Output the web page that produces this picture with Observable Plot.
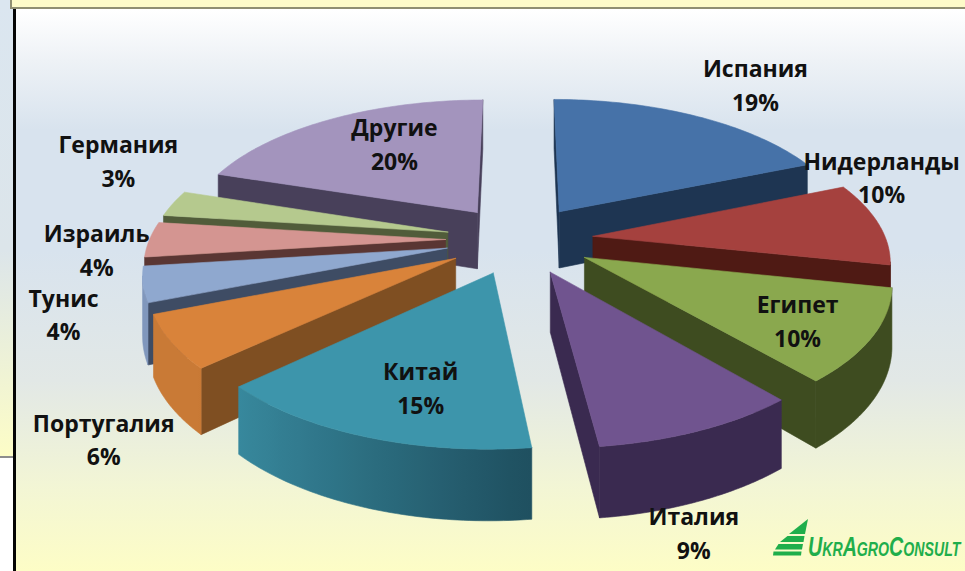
<!DOCTYPE html>
<html>
<head>
<meta charset="utf-8">
<script src="https://cdn.jsdelivr.net/npm/d3@7"></script>
<script src="https://cdn.jsdelivr.net/npm/@observablehq/plot@0.6"></script>
<style>
html,body{margin:0;padding:0;background:#fff;}
#stage{position:relative;width:965px;height:571px;overflow:hidden;
  background:linear-gradient(180deg,#ffffff 10px,#eef2f6 60px,#d8e3ee 130px,#d8e3ee 250px,#e2e8e6 380px,#f3f6d4 490px,#fdfdc6 571px);}
#strip{position:absolute;left:0;top:0;width:13px;height:458px;box-sizing:border-box;
  background:linear-gradient(180deg,#dbe6f0 0,#dce5ea 250px,#fdfdc6 458px);border-bottom:2px solid #8d8d8d;}
#white{position:absolute;left:0;top:458px;width:13px;height:113px;background:#fff;}
#vline{position:absolute;left:13px;top:9px;width:3px;height:562px;background:#050505;}
#band{position:absolute;left:10px;top:-2px;width:960px;height:11px;box-sizing:border-box;
  background:#fdfbc9;border:2px solid #8f8f72;}
#stage svg.plot{position:absolute;left:0;top:0;background:transparent;}
#logo{position:absolute;left:765px;top:512px;}
</style>
</head>
<body>
<div id="stage">
  <div id="strip"></div><div id="white"></div><div id="band"></div><div id="vline"></div>
  <div id="chart"></div>
  <svg id="logo" width="200" height="50" viewBox="0 0 200 50">
    <g fill="#1fae4b">
      <polygon points="43,7 40,22 24,22"/>
      <polygon points="22.5,24 39.5,24 38.5,30 15,30"/>
      <polygon points="13.5,32 38,32 37,37.5 10,37.5"/>
      <polygon points="8.5,39.5 36.5,39.5 36,43.5 8,43.5"/>
    </g>
    <text id="logoText" transform="translate(43,44)" fill="#1fae4b"
      font-family="Liberation Sans Narrow, Liberation Sans" font-weight="700" font-style="italic" font-size="27"
      style="font-variant:small-caps">UkrAgroConsult</text>
  </svg>
</div>
<script>
// Data (the labels show these rounded)
const countries = ["Испания","Нидерланды","Египет","Италия","Китай","Португалия","Тунис","Израиль","Германия","Другие"];
const shares    = [18.7,9.6,10.45,9.35,14.9,6,4,4,3,20];
const topColors  = ["#4672a8","#a5413e","#8aa84e","#70548f","#3d95ab","#d9833a","#8fa8cf","#d49591","#b5c98e","#a394bd"];
const wallColors = ["#1e3552","#4f1a14","#3e4c20","#3a2a50","#1f5060","#7f4f22","#3e4c64","#5a3633","#515c3a","#48405a"];
// Slice radius in pie terms (1 = pie edge)
const sliceRadius = [1,0.99,1,1,1,1,1,1,1,1];
// Label place in pie terms: bearing (degrees clockwise from the far side) and radius (1 = pie edge)
const labelBearing = [35.8,70.4,123,164.7,196.9,223.7,250,266.2,292.2,328];
const labelRadius  = [1.642,1.392,1.024,1.676,0.982,1.658,1.509,1.411,1.6,0.89];

// Perspective view of the exploded pie
const view = {cx:519, cy:239, W:296, A:137.5, P:0.154, E:0.25, H:58};
const rad = d => d*Math.PI/180;
function project(X, Z, down = 0) {
  const s = 1/(1 - view.P*Z);
  return [view.cx + view.W*X*s, view.cy + view.A*Z*s + down*view.H*s];
}
const area = q => d3.sum(q, (p,i) => { const n = q[(i+1)%q.length]; return p[0]*n[1]-n[0]*p[1]; });

let cum = 0;
const slices = shares.map((v,i) => {
  const a0 = cum/100*360; cum += v; const a1 = cum/100*360;
  const mid = (a0+a1)/2;
  const ox = view.E*Math.sin(rad(mid)), oz = -view.E*Math.cos(rad(mid));
  return {i, a0, a1, mid, ox, oz};
});

const faces = [];
const gradients = [];
let fid = 0;
function addFace(pts, color) {
  const id = fid++;
  [...pts, pts[0]].forEach(p => faces.push({x:p[0], y:p[1], id, color}));
}
[...slices].sort((a,b) => a.oz-b.oz).forEach(sl => {
  const topC = topColors[sl.i], wallC = wallColors[sl.i], R = sliceRadius[sl.i];
  const pt = (th, down=0) => project(sl.ox+R*Math.sin(rad(th)), sl.oz-R*Math.cos(rad(th)), down);
  const tip = d => project(sl.ox, sl.oz, d);
  // radial walls
  const w1 = [tip(0), pt(sl.a0), pt(sl.a0,1), tip(1)];
  if (area(w1) < 0) addFace(w1, wallC);
  const w2 = [pt(sl.a1), tip(0), tip(1), pt(sl.a1,1)];
  if (area(w2) < 0) addFace(w2, wallC);
  // outer wall: only the part that faces the viewer, lit from the left
  const ths = d3.range(0, 61).map(k => sl.a0 + (sl.a1-sl.a0)*k/60);
  const front = ths.slice(0,-1).map((t,k) => area([pt(t), pt(ths[k+1]), pt(ths[k+1],1), pt(t,1)]) < 0 ? k : -1).filter(k => k >= 0);
  if (front.length) {
    const from = front[0], to = front[front.length-1]+1;
    const vis = ths.slice(from, to+1);
    const light = d3.interpolateRgb(wallC, topC);
    const x0 = pt(vis[0])[0], x1 = pt(vis[vis.length-1])[0];
    const stops = vis.filter((_,k) => k%4 === 0 || k === vis.length-1).map(t => {
      const m = Math.max(0, Math.min(1, ((1-Math.sin(rad(t)))/2 - 0.45)/0.42));
      return {offset: x1 === x0 ? 0 : (pt(t)[0]-x0)/(x1-x0), color: light(m*0.82)};
    });
    const id = "wall-" + sl.i;
    gradients.push({id, x0, x1, stops});
    addFace([...vis.map(t => pt(t)), ...[...vis].reverse().map(t => pt(t,1))], `url(#${id})`);
  }
  // top face
  addFace([tip(0), ...ths.map(t => pt(t))], topC);
});

const labels = countries.map((c,i) => {
  const b = rad(labelBearing[i]), r = labelRadius[i];
  const [x,y] = project(r*Math.sin(b), -r*Math.cos(b));
  return {x, y, text: c + "\n" + Math.round(shares[i]) + "%"};
});

function gradientDefs() {
  const defs = d3.create("svg:defs");
  gradients.forEach(g => {
    const lg = defs.append("linearGradient").attr("id", g.id).attr("gradientUnits","userSpaceOnUse")
      .attr("x1", g.x0).attr("x2", g.x1).attr("y1", 0).attr("y2", 0);
    g.stops.forEach(s => lg.append("stop").attr("offset", s.offset).attr("stop-color", s.color));
  });
  return defs.node();
}

const chart = Plot.plot({
  width: 965, height: 571,
  margin: 0,
  x: {domain:[0,965], range:[0,965], axis:null},
  y: {domain:[0,571], range:[0,571], axis:null},
  color: {type:"identity"},
  style: {background:"transparent"},
  marks: [
    gradientDefs,
    Plot.line(faces, {x:"x", y:"y", z:"id", fill:"color", stroke:"color", strokeWidth:0.6, curve:"linear"}),
    Plot.text(labels, {x:"x", y:"y", dy:-4, text:"text", fontFamily:"Open Sans", fontWeight:700, fontSize:23,
                       lineHeight:1.47, fill:"#111", textAnchor:"middle"})
  ]
});
document.getElementById("chart").appendChild(chart);

// Fit the logo lettering to its width
const logoText = document.getElementById("logoText");
const natural = logoText.getComputedTextLength();
logoText.setAttribute("transform", `translate(43,44) scale(${150/natural},1)`);
</script>
</body>
</html>
